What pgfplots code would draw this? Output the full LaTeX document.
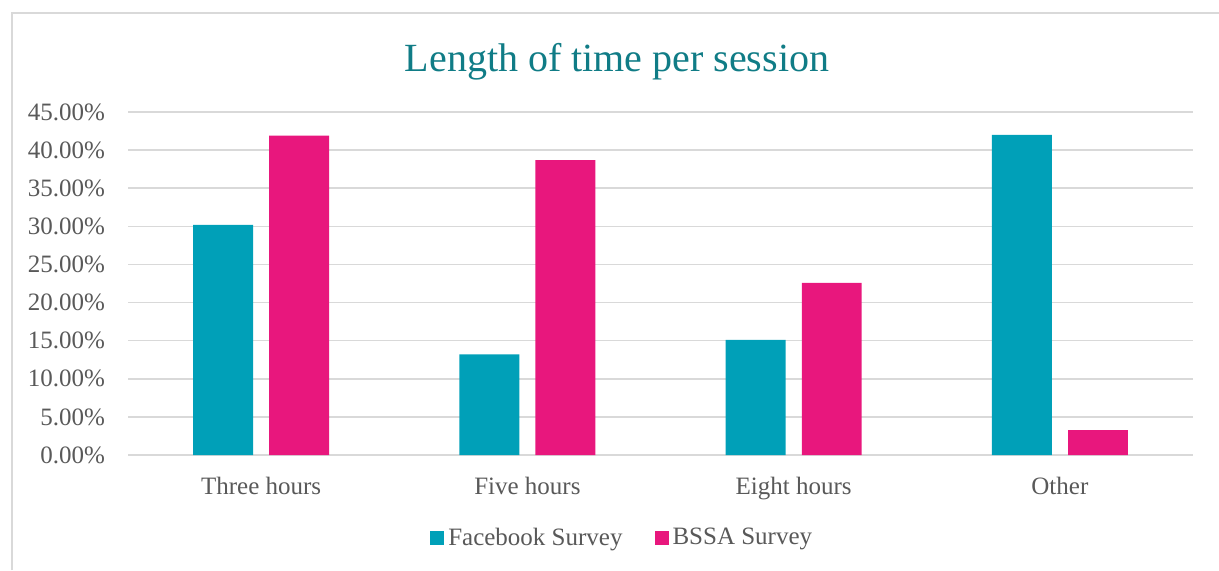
\documentclass[border=0pt]{standalone}
\usepackage{pgfplots}
\pgfplotsset{compat=1.18}
\usepackage{fontspec}
\setmainfont{Liberation Serif}
\definecolor{fbteal}{RGB}{0,160,184}
\definecolor{bssapink}{RGB}{232,23,125}
\definecolor{titleteal}{RGB}{16,124,134}
\definecolor{txtgray}{RGB}{89,89,89}
\definecolor{gridgray}{RGB}{217,217,217}

\begin{document}
\begin{tikzpicture}
\useasboundingbox (0,0) rectangle (609.5pt,285pt);
\draw[gridgray, line width=0.8pt] (6pt,0) -- (6pt,278.5pt) -- (609.5pt,278.5pt);
\node[titleteal, font=\fontsize{20}{24}\selectfont] at (308.5pt,254pt) {Length of time per session};
\begin{axis}[
  at={(64pt,57.5pt)}, anchor=south west,
  scale only axis, width=532.5pt, height=171.5pt,
  xmin=-0.5, xmax=3.5, ymin=0, ymax=45,
  ybar,
  xtick={0,1,2,3},
  xticklabels={Three hours,Five hours,Eight hours,Other},
  ytick={0,5,...,45},
  yticklabel={\pgfmathprintnumber[assume math mode=true,fixed,fixed zerofill,precision=2]{\tick}\%},
  axis line style={draw=none},
  major tick length=0pt,
  ymajorgrids,
  grid style={gridgray, line width=0.8pt},
  tick label style={font=\fontsize{12.5}{14}\selectfont, text=txtgray},
  yticklabel style={xshift=-8pt},
  xticklabel style={yshift=-7.5pt},
  legend style={at={(0.465,-0.242)}, anchor=center, draw=none,
    font=\fontsize{12.5}{15}\selectfont, text=txtgray,
    legend columns=2,
    /tikz/every even column/.append style={column sep=14pt}},
  legend image code/.code={\fill[#1] (0pt,-3.5pt) rectangle (7pt,3.5pt);},
]
  \addplot[bar width=0.225, bar shift=-0.143, fill=fbteal, draw=none]
    coordinates {(0,30.2) (1,13.2) (2,15.1) (3,42.0)};
  \addplot[bar width=0.225, bar shift=0.143, fill=bssapink, draw=none]
    coordinates {(0,41.9) (1,38.7) (2,22.6) (3,3.25)};
  \legend{Facebook Survey, BSSA Survey}
\end{axis}
\end{tikzpicture}
\end{document}
